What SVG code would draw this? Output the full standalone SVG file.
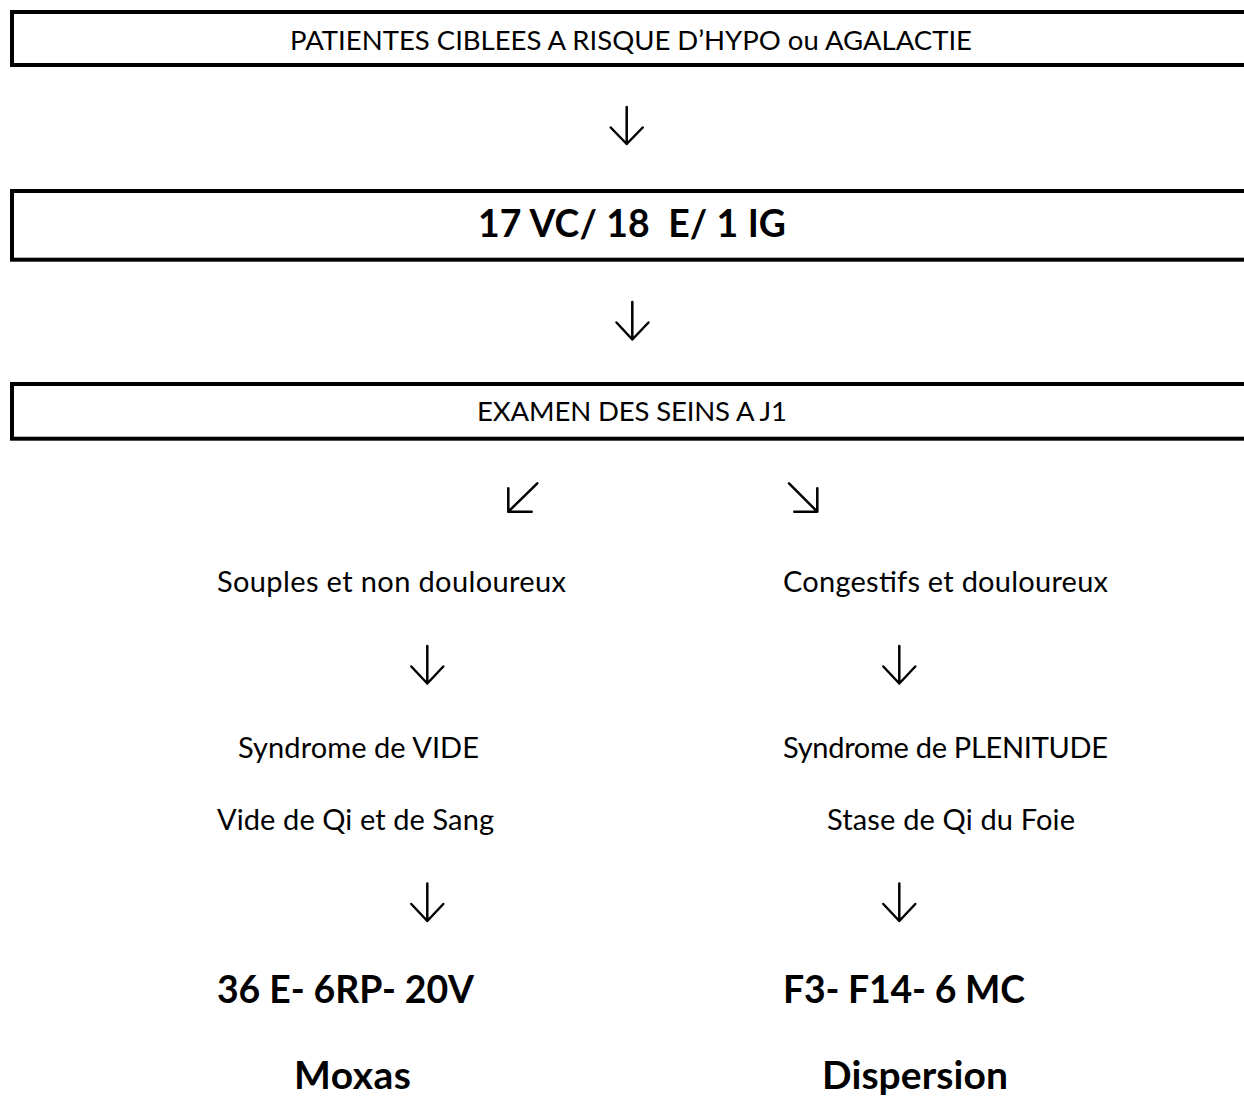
<svg xmlns="http://www.w3.org/2000/svg" width="1244" height="1098" viewBox="0 0 1244 1098">
<style>
.box{fill:#fff;stroke:#000;stroke-width:4}
.t{font-family:Lato,"Open Sans","Liberation Sans",sans-serif;fill:#000;text-anchor:middle;white-space:pre}
.c{font-size:27.5px}
.n{font-size:29px}
.b{font-size:37.4px;font-weight:bold}
.bb{font-size:39px;font-weight:bold}
.arr{fill:none;stroke:#000;stroke-width:2.5;stroke-linecap:round;stroke-linejoin:round}
</style>
<rect width="1244" height="1098" fill="#fff"/>
<g id="node-patientes">
<rect class="box" x="12" y="12" width="1260" height="53"/>
<text class="t c" x="631" y="50" textLength="682" lengthAdjust="spacing">PATIENTES CIBLEES A RISQUE D’HYPO ou AGALACTIE</text>
</g>
<g id="node-points">
<rect class="box" x="12" y="191" width="1260" height="68.7"/>
<text class="t b" x="632" y="237" textLength="308" lengthAdjust="spacing" xml:space="preserve">17 VC/ 18  E/ 1 IG</text>
</g>
<g id="node-examen">
<rect class="box" x="12" y="384" width="1260" height="54.7"/>
<text class="t c" x="632" y="421" textLength="310" lengthAdjust="spacing">EXAMEN DES SEINS A J1</text>
</g>
<g id="node-souples"><text class="t n" x="391.5" y="592" textLength="349" lengthAdjust="spacing">Souples et non douloureux</text></g>
<g id="node-congestifs"><text class="t n" x="945.5" y="592" textLength="325" lengthAdjust="spacing">Congestifs et douloureux</text></g>
<g id="node-vide">
<text class="t n" x="358.5" y="758" textLength="241" lengthAdjust="spacing">Syndrome de VIDE</text>
<text class="t n" x="355.5" y="830" textLength="277" lengthAdjust="spacing">Vide de Qi et de Sang</text>
</g>
<g id="node-plenitude">
<text class="t n" x="945.5" y="758" textLength="325" lengthAdjust="spacing">Syndrome de PLENITUDE</text>
<text class="t n" x="951" y="830" textLength="248" lengthAdjust="spacing">Stase de Qi du Foie</text>
</g>
<g id="node-moxas">
<text class="t b" x="345.5" y="1003" textLength="257" lengthAdjust="spacing">36 E- 6RP- 20V</text>
<text class="t bb" x="352.5" y="1089" textLength="117" lengthAdjust="spacing">Moxas</text>
</g>
<g id="node-dispersion">
<text class="t b" x="904" y="1003" textLength="242" lengthAdjust="spacing">F3- F14- 6 MC</text>
<text class="t bb" x="915" y="1089" textLength="186" lengthAdjust="spacing">Dispersion</text>
</g>
<g id="connectors">
<path class="arr" d="M626.7 107V144M610.7 127.5L626.7 144L642.7 127.5"/>
<path class="arr" d="M632.3 302V339.5M616.5 322.5L632.3 339.5L648.5 322.5"/>
<path class="arr" d="M537.3 483.3L508.3 511.7M508.3 488.3V511.7H531.7"/>
<path class="arr" d="M789 483.3L817.3 511.7M817.3 488.3V511.7H794.3"/>
<path class="arr" d="M427.3 646V683.5M411.3 666.5L427.3 683.5L443.3 666.5"/>
<path class="arr" d="M899.3 646V683.5M883.3 666.5L899.3 683.5L915.3 666.5"/>
<path class="arr" d="M427.3 883.5V921M411.3 904L427.3 921L443.3 904"/>
<path class="arr" d="M899.3 883.5V921M883.3 904L899.3 921L915.3 904"/>
</g>
</svg>
